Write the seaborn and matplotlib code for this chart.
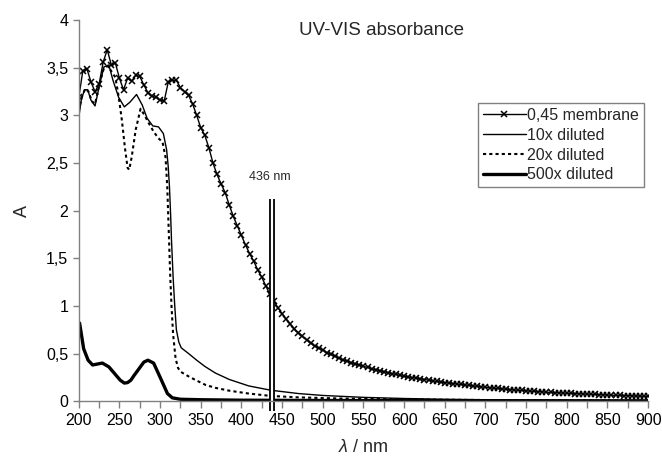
import numpy as np
import matplotlib
matplotlib.use("Agg")
import matplotlib.pyplot as plt
import seaborn as sns

# wavelength grid of the membrane series (nm)
wl_membrane = np.arange(200, 905, 5)
a_membrane = [
    3.19, 3.47, 3.49, 3.35, 3.25, 3.33, 3.56, 3.69, 3.53, 3.55,
    3.39, 3.27, 3.39, 3.36, 3.42, 3.41, 3.32, 3.24, 3.20, 3.19,
    3.16, 3.15, 3.35, 3.37, 3.37, 3.29, 3.25, 3.21, 3.12, 3.00,
    2.87, 2.79, 2.66, 2.50, 2.38, 2.28, 2.19, 2.06, 1.94, 1.84,
    1.74, 1.64, 1.55, 1.47, 1.38, 1.30, 1.21, 1.12, 1.05, 0.98,
    0.92, 0.86, 0.81, 0.76, 0.72, 0.68, 0.645, 0.61, 0.58, 0.555,
    0.535, 0.51, 0.49, 0.47, 0.45, 0.435, 0.42, 0.405, 0.39, 0.38,
    0.365, 0.355, 0.34, 0.33, 0.32, 0.31, 0.30, 0.29, 0.28, 0.27,
    0.26, 0.255, 0.248, 0.24, 0.233, 0.226, 0.22, 0.213, 0.207, 0.20,
    0.195, 0.19, 0.185, 0.18, 0.175, 0.17, 0.165, 0.16, 0.155, 0.15,
    0.145, 0.141, 0.137, 0.133, 0.129, 0.125, 0.121, 0.118, 0.115, 0.112,
    0.109, 0.106, 0.103, 0.10, 0.097, 0.094, 0.092, 0.09, 0.087, 0.085,
    0.083, 0.081, 0.079, 0.077, 0.075, 0.073, 0.071, 0.07, 0.068, 0.066,
    0.065, 0.063, 0.062, 0.06, 0.059, 0.057, 0.056, 0.055, 0.054, 0.052,
    0.051,
]

wl_10x = [200, 203, 207, 211, 215, 220, 226, 231, 237, 242, 249, 256, 263, 271,
          278, 284, 291, 298, 304, 308, 310, 311.5, 313, 314, 316, 318, 320, 323,
          326, 335, 345, 355, 368, 385, 409, 436, 470, 500, 550, 600, 650, 700,
          800, 900]
a_10x = [2.98, 3.16, 3.27, 3.27, 3.16, 3.10, 3.34, 3.51, 3.53, 3.37, 3.19, 3.09,
         3.14, 3.22, 3.11, 2.97, 2.89, 2.88, 2.81, 2.64, 2.46, 2.25, 1.94, 1.69,
         1.30, 1.00, 0.75, 0.62, 0.56, 0.50, 0.43, 0.365, 0.295, 0.228, 0.16, 0.115,
         0.08, 0.06, 0.04, 0.028, 0.02, 0.015, 0.01, 0.008]

wl_20x = [200, 204, 208, 212, 216, 220, 226, 231, 236, 241, 245, 249, 253, 256.6,
          260, 262, 265, 270, 276, 281, 286, 292, 298, 303, 306.7, 308.8, 310, 311,
          312.5, 314, 316, 319, 322, 325, 335, 344, 356, 368, 385, 409, 436, 470,
          520, 600, 700, 800, 900]
a_20x = [3.05, 3.20, 3.28, 3.25, 3.15, 3.12, 3.35, 3.50, 3.52, 3.45, 3.40, 3.20,
         2.95, 2.67, 2.45, 2.43, 2.56, 2.85, 3.07, 3.00, 2.92, 2.83, 2.76, 2.72,
         2.56, 2.25, 1.94, 1.69, 1.30, 1.00, 0.70, 0.45, 0.35, 0.31, 0.26, 0.22,
         0.17, 0.14, 0.11, 0.08, 0.055, 0.04, 0.028, 0.018, 0.012, 0.008, 0.006]

wl_500x = [201, 206, 211.5, 217, 223, 229, 237, 246, 251, 256, 260, 264, 268,
           274, 280, 285, 292, 300.6, 309, 315, 325, 350, 400, 500, 600, 700, 900]
a_500x = [0.82, 0.55, 0.43, 0.38, 0.39, 0.40, 0.36, 0.27, 0.22, 0.19, 0.195,
          0.22, 0.27, 0.34, 0.41, 0.43, 0.40, 0.24, 0.08, 0.035, 0.02, 0.015,
          0.01, 0.007, 0.005, 0.004, 0.003]

series_labels = ["0,45 membrane", "10x diluted", "20x diluted", "500x diluted"]
x_ticks = list(range(200, 901, 50))
y_ticks = [0, 0.5, 1, 1.5, 2, 2.5, 3, 3.5, 4]
y_tick_labels = ["0", "0,5", "1", "1,5", "2", "2,5", "3", "3,5", "4"]
marker_nm = 438
marker_top = 2.12

sns.set_style("ticks")
plt.rcParams["font.family"] = ["Liberation Sans", "DejaVu Sans"]
plt.rcParams["mathtext.fontset"] = "custom"
plt.rcParams["mathtext.it"] = "Liberation Sans:italic"
plt.rcParams["mathtext.rm"] = "Liberation Sans"

fig = plt.figure(figsize=(6.62, 4.59), dpi=100)
ax = fig.add_axes([0.119, 0.126, 0.860, 0.830])

sns.lineplot(x=wl_membrane, y=a_membrane, ax=ax, color="black", linewidth=1.0,
             marker="x", markersize=5, markeredgewidth=1.1, markeredgecolor="black",
             label=series_labels[0], sort=False)
sns.lineplot(x=wl_10x, y=a_10x, ax=ax, color="black", linewidth=1.0,
             label=series_labels[1], sort=False)
sns.lineplot(x=wl_20x, y=a_20x, ax=ax, color="black", linewidth=1.5,
             linestyle=(0, (1.5, 1.5)), label=series_labels[2], sort=False)
sns.lineplot(x=wl_500x, y=a_500x, ax=ax, color="black", linewidth=2.4,
             label=series_labels[3], sort=False)

# 436 nm double line
ax.plot([marker_nm, marker_nm], [-0.1, marker_top], color="black", lw=4.2,
        clip_on=False, solid_capstyle="butt")
ax.plot([marker_nm, marker_nm], [-0.1, marker_top], color="white", lw=1.6,
        clip_on=False, solid_capstyle="butt")
ax.text(marker_nm - 3, 2.35, "436 nm", fontsize=9, ha="center", va="center")

ax.text(0.532, 0.974, "UV-VIS absorbance", transform=ax.transAxes,
        fontsize=13.5, ha="center", va="center")

ax.set_xlim(200, 900)
ax.set_ylim(0, 4)
ax.set_xticks(x_ticks)
ax.set_xticks(list(range(225, 900, 50)), minor=True)
ax.set_yticks(y_ticks)
ax.set_yticklabels(y_tick_labels)
ax.tick_params(axis="both", which="both", labelsize=11.5, colors="#808080",
               labelcolor="black", length=5, width=1)
ax.tick_params(axis="y", length=4)

for s in ["top", "right"]:
    ax.spines[s].set_visible(False)
for s in ["left", "bottom"]:
    ax.spines[s].set_color("#808080")
    ax.spines[s].set_linewidth(1)

ax.set_xlabel(r"$\lambda$ / nm", fontsize=13, labelpad=8)
ax.set_ylabel("A", fontsize=13, labelpad=11)

leg = ax.legend(loc="upper right", bbox_to_anchor=(0.993, 0.782), fontsize=11.5,
                frameon=True, fancybox=False, framealpha=1, edgecolor="#808080",
                handlelength=2.7, handletextpad=0.1, labelspacing=0.3,
                borderpad=0.3, borderaxespad=0)
leg.get_frame().set_linewidth(1)

fig.savefig("out.png", dpi=100)
